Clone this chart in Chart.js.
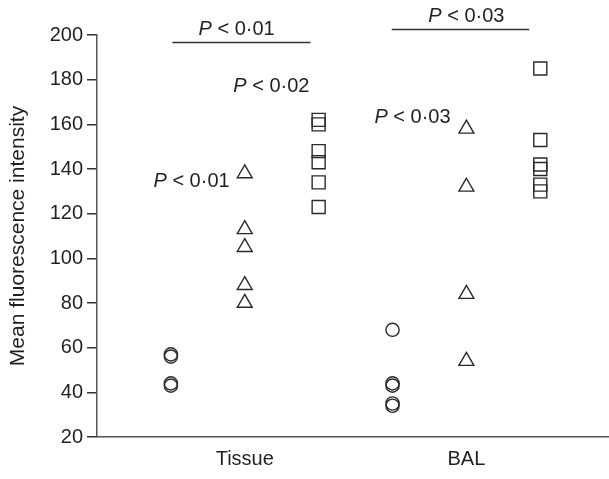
<!DOCTYPE html>
<html>
<head>
<meta charset="utf-8">
<script src="https://cdn.jsdelivr.net/npm/chart.js@4/dist/chart.umd.min.js"></script>
<style>
  html, body { margin: 0; padding: 0; background: #fff; }
  #wrap { width: 609px; height: 479px; }
</style>
</head>
<body>
<div id="wrap"><canvas id="c" width="609" height="479"></canvas></div>
<script>
// ---- Data ----
const categories = ['Tissue', 'BAL'];
const yTicks = [20, 40, 60, 80, 100, 120, 140, 160, 180, 200];

const tissueCircles   = [57, 56, 44, 43];
const tissueTriangles = [138, 113, 105, 88, 80];
const tissueSquares   = [162, 160, 148, 143, 134, 123];

const balCircles   = [68, 44, 43, 35, 34];
const balTriangles = [158, 132, 84, 54];
const balSquares   = [185, 153, 142, 140, 133, 130];

const pLabels = ['P < 0·01', 'P < 0·02', 'P < 0·01', 'P < 0·03', 'P < 0·03'];

// ---- Build datasets ----
const groups = [
  { cat: 0, slot: 1, values: tissueCircles,   style: 'circle',   r: 6.6 },
  { cat: 0, slot: 2, values: tissueTriangles, style: 'triangle', r: 8.6 },
  { cat: 0, slot: 3, values: tissueSquares,   style: 'rect',     r: 9.2 },
  { cat: 1, slot: 1, values: balCircles,      style: 'circle',   r: 6.6 },
  { cat: 1, slot: 2, values: balTriangles,    style: 'triangle', r: 8.6 },
  { cat: 1, slot: 3, values: balSquares,      style: 'rect',     r: 9.2 }
];
const datasets = groups.map(g => ({
  data: g.values.map(v => ({ x: g.cat * 3 + g.slot, y: v })),
  pointStyle: g.style,
  pointRadius: g.r,
  pointHoverRadius: g.r,
  pointBorderWidth: 1.4,
  pointBorderColor: '#2a2a2a',
  pointBackgroundColor: 'rgba(0,0,0,0)',
  showLine: false
}));

// Annotation placement (data coordinates)
const brackets = [
  { x1: 1.02, x2: 2.89, y: 196.9 },
  { x1: 3.99, x2: 5.85, y: 202.5 }
];
const textSpots = [
  { x: 1.89, y: 202.4 },
  { x: 2.36, y: 176.8 },
  { x: 1.28, y: 134.4 },
  { x: 4.27, y: 163.0 },
  { x: 5.00, y: 208.2 }
];

const FONT = '"Liberation Sans", Arial, Helvetica, sans-serif';
const TEXT = '#231f20';

const annot = {
  id: 'annot',
  afterDraw(chart) {
    const ctx = chart.ctx, xs = chart.scales.x, ys = chart.scales.y;
    ctx.save();
    ctx.strokeStyle = '#333';
    ctx.lineWidth = 1.5;
    brackets.forEach(b => {
      const y = Math.round(ys.getPixelForValue(b.y)) + 0.5;
      ctx.beginPath();
      ctx.moveTo(xs.getPixelForValue(b.x1), y);
      ctx.lineTo(xs.getPixelForValue(b.x2), y);
      ctx.stroke();
    });
    ctx.fillStyle = TEXT;
    ctx.textBaseline = 'middle';
    ctx.textAlign = 'left';
    pLabels.forEach((t, i) => {
      const s = textSpots[i];
      const cx = xs.getPixelForValue(s.x), cy = ys.getPixelForValue(s.y);
      const head = t.charAt(0), rest = t.slice(1);
      ctx.font = 'italic 20px ' + FONT;
      const w1 = ctx.measureText(head).width;
      ctx.font = '20px ' + FONT;
      const w2 = ctx.measureText(rest).width;
      const x0 = cx - (w1 + w2) / 2;
      ctx.font = 'italic 20px ' + FONT;
      ctx.fillText(head, x0, cy);
      ctx.font = '20px ' + FONT;
      ctx.fillText(rest, x0 + w1, cy);
    });
    ctx.restore();
  }
};

new Chart(document.getElementById('c'), {
  type: 'scatter',
  data: { datasets },
  plugins: [annot],
  options: {
    responsive: false,
    animation: false,
    events: [],
    layout: { autoPadding: false, padding: { top: 35, right: 0, left: 0, bottom: 0 } },
    plugins: { legend: { display: false }, tooltip: { enabled: false } },
    scales: {
      x: {
        type: 'linear',
        min: 0,
        max: 6.93,
        afterBuildTicks(scale) {
          scale.ticks = categories.map((c, i) => ({ value: i * 3 + 2 }));
        },
        afterFit(scale) {
          scale.height = 42;
          scale.paddingLeft = 0;
          scale.paddingRight = 0;
        },
        ticks: {
          callback: (v) => categories[Math.round((v - 2) / 3)],
          color: TEXT,
          font: { family: FONT, size: 20 },
          padding: 10,
          maxRotation: 0,
          autoSkip: false
        },
        grid: { display: false, drawTicks: false },
        border: { display: true, color: '#555', width: 1.5 }
      },
      y: {
        min: 20,
        max: 200,
        afterBuildTicks(scale) {
          scale.ticks = yTicks.map(v => ({ value: v }));
        },
        afterFit(scale) {
          scale.width = 97;
          scale.paddingTop = 0;
          scale.paddingBottom = 0;
        },
        ticks: {
          color: TEXT,
          font: { family: FONT, size: 20 },
          padding: 4
        },
        grid: {
          drawOnChartArea: false,
          drawTicks: true,
          tickLength: 10,
          color: '#333',
          lineWidth: 1.5
        },
        border: { display: true, color: '#555', width: 1.5 },
        title: {
          display: true,
          text: 'Mean fluorescence intensity',
          color: TEXT,
          font: { family: FONT, size: 21 },
          padding: { top: 6, bottom: 0 }
        }
      }
    }
  }
});
</script>
</body>
</html>
